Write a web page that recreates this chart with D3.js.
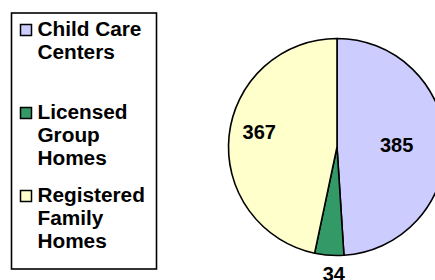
<!DOCTYPE html>
<meta charset="utf-8">
<style>
body { margin: 0; background: #fff; }
text { font-family: "Liberation Sans", Arial, sans-serif; font-weight: bold; fill: #000; }
</style>
<svg width="435" height="280"></svg>
<script src="https://d3js.org/d3.v7.min.js"></script>
<script>

// dados
var categorias = ["Child Care Centers", "Licensed Group Homes", "Registered Family Homes"];
var valores = [385, 34, 367];
var legendaLinhas = [["Child Care", "Centers"], ["Licensed", "Group", "Homes"], ["Registered", "Family", "Homes"]];

var svg = d3.select("svg");

var cor = d3.scaleOrdinal().domain(categorias).range(["#ccccff", "#339966", "#ffffcc"]);

// a pizza
var cx = 337, cy = 147, raio = 108.5;

var pie = d3.pie().sort(null).value(d => d.valor);
var arc = d3.arc().innerRadius(0).outerRadius(raio);

var fatias = pie(categorias.map((c, i) => ({cat: c, valor: valores[i]})));

var g = svg.append("g").attr("transform", "translate(" + cx + "," + cy + ")");

g.selectAll("path")
  .data(fatias)
  .enter()
  .append("path")
    .attr("d", arc)
    .attr("fill", d => cor(d.data.cat))
    .attr("stroke", "#000")
    .attr("stroke-width", 1.6)
    .attr("stroke-linejoin", "round");

// rótulos: fatias pequenas ficam do lado de fora
function raioRotulo(d) {
  var frac = (d.endAngle - d.startAngle) / (2 * Math.PI);
  if (frac < 0.1) return raio + 19;
  return d.index == 0 ? raio * 0.55 : raio * 0.72;
}

g.selectAll("text.rotulo")
  .data(fatias)
  .enter()
  .append("text")
    .attr("class", "rotulo")
    .attr("text-anchor", "middle")
    .attr("font-size", 20)
    .attr("transform", d => {
      var r = raioRotulo(d);
      var c = d3.arc().innerRadius(r).outerRadius(r).centroid(d);
      return "translate(" + (c[0] + (d.index == 1 ? 6 : 0)) + "," + (c[1] - (d.index == 2 ? 7 : 0)) + ")";
    })
    .attr("dy", "0.35em")
    .text(d => d.data.valor);

// legenda
var leg = svg.append("g");
leg.append("rect")
    .attr("x", 11.5).attr("y", 13)
    .attr("width", 145).attr("height", 256)
    .attr("fill", "#fff")
    .attr("stroke", "#000")
    .attr("stroke-width", 1.6);

var inicioItem = [36, 119, 202];
var item = leg.selectAll("g.item")
  .data(categorias)
  .enter()
  .append("g")
    .attr("class", "item")
    .attr("transform", (d, i) => "translate(0," + inicioItem[i] + ")");

item.append("rect")
    .attr("x", 20.5).attr("y", -11.5)
    .attr("width", 11).attr("height", 11)
    .attr("fill", d => cor(d))
    .attr("stroke", "#000")
    .attr("stroke-width", 1.5);

item.each(function(d, i) {
  d3.select(this).selectAll("text")
    .data(legendaLinhas[i])
    .enter()
    .append("text")
      .attr("x", 36)
      .attr("y", (t, j) => j * 23)
      .attr("font-size", 20)
      .attr("transform", "scale(1.04,1)")
      .text(t => t);
});

</script>
